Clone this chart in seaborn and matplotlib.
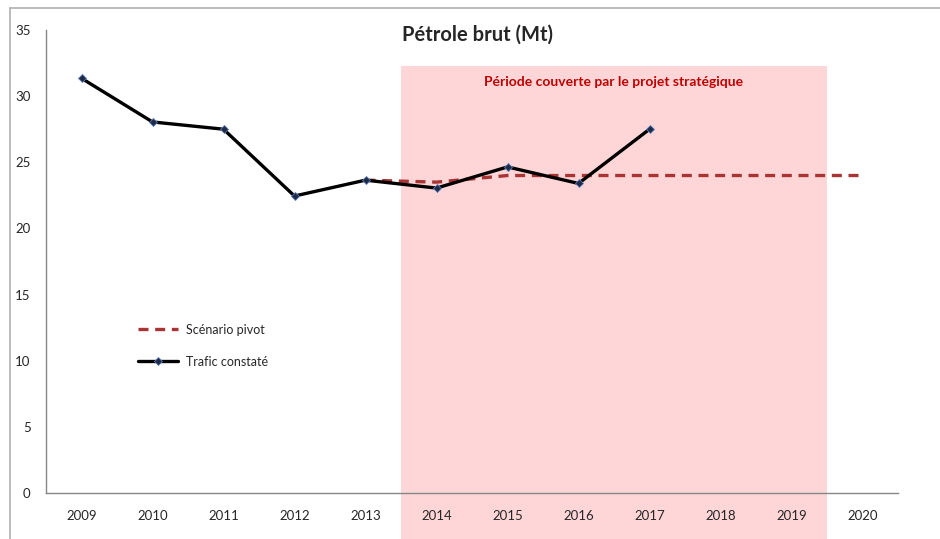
import numpy as np
import pandas as pd
import matplotlib
matplotlib.use("Agg")
import matplotlib.pyplot as plt
import seaborn as sns
from matplotlib.patches import Rectangle
from matplotlib.lines import Line2D

# --- data ---
years = ["2009", "2010", "2011", "2012", "2013", "2014",
         "2015", "2016", "2017", "2018", "2019", "2020"]
trafic_years = ["2009", "2010", "2011", "2012", "2013", "2014", "2015", "2016", "2017"]
trafic_values = [31.35, 28.05, 27.5, 22.45, 23.65, 23.05, 24.65, 23.4, 27.5]
scenario_years = ["2013", "2014", "2015", "2016", "2017", "2018", "2019", "2020"]
scenario_values = [23.65, 23.5, 24.0, 24.0, 24.0, 24.0, 24.0, 24.0]
periode_start, periode_end = "2014", "2019"
periode_top = 32.3

sns.set_style("white")
plt.rcParams["font.family"] = ["Lato", "DejaVu Sans"]

pos = {y: i for i, y in enumerate(years)}
df_trafic = pd.DataFrame({"x": [pos[y] for y in trafic_years], "val": trafic_values})
df_scen = pd.DataFrame({"x": [pos[y] for y in scenario_years], "val": scenario_values})

fig = plt.figure(figsize=(9.40, 5.39), dpi=100)
ax = fig.add_axes([46 / 940, 1 - 493 / 539, (898 - 46) / 940, (493 - 30) / 539])

# shaded period (runs down to the bottom of the picture, like the original)
x0 = pos[periode_start] - 0.5
x1 = pos[periode_end] + 0.5
ax.add_patch(Rectangle((x0, -3.6), x1 - x0, periode_top + 3.6, facecolor="#ffd6d7",
                       edgecolor="none", clip_on=False, zorder=0))
ax.text((x0 + x1) / 2, 31.1, "Période couverte par le projet stratégique",
        color="#c00000", fontsize=10, fontweight="bold", ha="center", va="center")

sns.lineplot(data=df_scen, x="x", y="val", ax=ax, color="#a83434", linewidth=2.4,
             linestyle=(0, (3, 2)), label="Scénario pivot", zorder=2)
sns.lineplot(data=df_trafic, x="x", y="val", ax=ax, color="black", linewidth=2.4,
             marker="D", markersize=4, markerfacecolor="#1f2a44",
             markeredgecolor="#5b7fc0", markeredgewidth=0.6,
             label="Trafic constaté", zorder=3)

ax.set_xlim(-0.5, len(years) - 0.5)
ax.set_ylim(0, 35)
ax.set_yticks(np.arange(0, 36, 5))
ax.set_xticks(np.arange(-0.5, len(years), 1.0))
ax.set_xticklabels([])
ax.set_xticks(np.arange(len(years)), minor=True)
ax.set_xticklabels(years, minor=True)
ax.tick_params(axis="x", which="major", direction="in", length=5, color="#868686", width=1)
ax.tick_params(axis="x", which="minor", length=0, pad=12, labelsize=9.5)
ax.tick_params(axis="y", direction="out", length=5, color="#868686", width=1, labelsize=9.5, pad=6)
ax.set_xlabel("")
ax.set_ylabel("")
for side in ["top", "right"]:
    ax.spines[side].set_visible(False)
for side in ["left", "bottom"]:
    ax.spines[side].set_color("#868686")
    ax.spines[side].set_linewidth(1)

fig.text(478 / 940, 1 - 35 / 539, "Pétrole brut (Mt)", fontsize=14.5, fontweight="bold",
         ha="center", va="center")

ax.legend(loc="upper left", bbox_to_anchor=(0.095, 0.39), frameon=False,
          fontsize=9, labelspacing=1.6, handlelength=3.2, handletextpad=0.6)

# outer chart frame (left and top edges)
fig.add_artist(Line2D([10 / 940, 10 / 940], [0, 1 - 8 / 539], color="#b0b0b0", linewidth=1.2))
fig.add_artist(Line2D([10 / 940, 1], [1 - 8 / 539, 1 - 8 / 539], color="#b0b0b0", linewidth=1.2))

fig.savefig("out.png", dpi=100)
